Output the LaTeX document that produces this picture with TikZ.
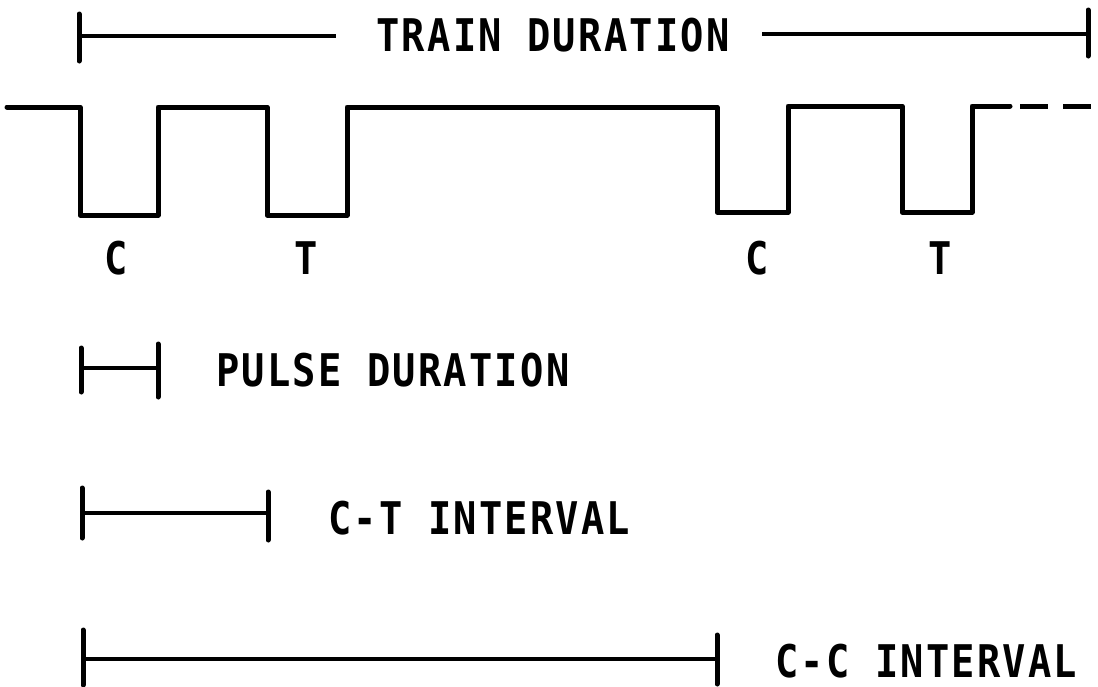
\documentclass[tikz,border=0pt]{standalone}
\usepackage{fontspec}
\newfontfamily\lblfont{DejaVu Sans Mono}[FakeStretch=0.86,LetterSpace=5]
\begin{document}
\begin{tikzpicture}[x=1pt,y=-1pt,
  wave/.style={line width=5pt,line join=round,line cap=round},
  bar/.style={line width=4pt},
  tickmark/.style={line width=5pt,line cap=round},
  lbl/.style={font=\lblfont\bfseries\fontsize{45}{52}\selectfont,inner sep=0pt}]
\useasboundingbox (0,0) rectangle (1098,686);

% waveform
\draw[wave] (7,107) -- (80,107) -- (80,215) -- (158,215) -- (158,107)
  -- (267,107) -- (267,215) -- (347,215) -- (347,107)
  -- (717,107) -- (717,212) -- (788,212) -- (788,106)
  -- (902,106) -- (902,212) -- (972,212) -- (972,106) -- (1010,106);
\draw[wave,line cap=butt,dash pattern=on 28pt off 15pt] (1020,106) -- (1093,106);

% pulse labels
\node[lbl] (c1) at (116,258) {C};
\node[lbl] (t1) at (306,258) {T};
\node[lbl] (c2) at (757,258) {C};
\node[lbl] (t2) at (940,258) {T};

% train duration
\node[lbl] (td) at (553,35) {TRAIN DURATION};
\coordinate (tdL) at (79,36);
\coordinate (tdA) at (336,36);
\coordinate (tdB) at (762,34);
\coordinate (tdR) at (1088,34);
\draw[bar] (tdL) -- (tdA);
\draw[bar] (tdB) -- (tdR);
\draw[tickmark] (79,14) -- (79,61);
\draw[tickmark] (1088,10) -- (1088,56);

% pulse duration
\coordinate (pdL) at (81,368);
\coordinate (pdR) at (158,368);
\draw[bar] (pdL) -- (pdR);
\draw[tickmark] (81,348) -- (81,392);
\draw[tickmark] (158,344) -- (158,397);
\node[lbl,anchor=west] (pd) at (216,370) {PULSE DURATION};

% C-T interval
\coordinate (ctL) at (82,513);
\coordinate (ctR) at (268,513);
\draw[bar] (ctL) -- (ctR);
\draw[tickmark] (82,488) -- (82,538);
\draw[tickmark] (268,492) -- (268,540);
\node[lbl,anchor=west] (ct) at (328,518) {C-T INTERVAL};

% C-C interval
\coordinate (ccL) at (83,659);
\coordinate (ccR) at (717,659);
\draw[bar] (ccL) -- (ccR);
\draw[tickmark] (83,630) -- (83,685);
\draw[tickmark] (717,635) -- (717,684);
\node[lbl,anchor=west] (cc) at (775,661) {C-C INTERVAL};
\end{tikzpicture}
\end{document}
